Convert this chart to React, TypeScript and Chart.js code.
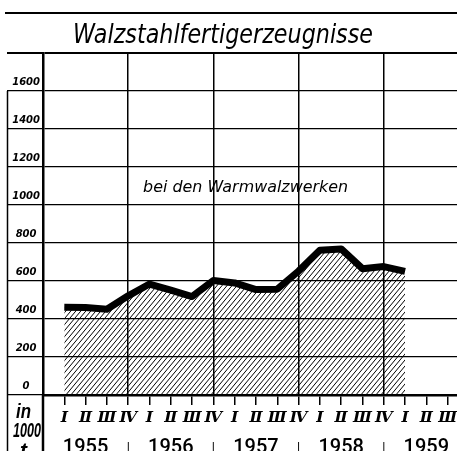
import React, { useEffect, useRef } from 'react';
import { Chart, registerables } from 'chart.js';
Chart.register(...registerables);

// Walzstahlfertigerzeugnisse bei den Warmwalzwerken, in 1000 t, quarterly 1955 I – 1959 I
const quarters = ['Ⅰ', 'Ⅱ', 'Ⅲ', 'Ⅳ'];
const years = ['1955', '1956', '1957', '1958', '1959'];
const values = [462, 460, 451, 522, 584, 552, 518, 603, 590, 555, 557, 652, 762, 769, 665, 676, 651];
const yTickValues = [0, 200, 400, 600, 800, 1000, 1200, 1400, 1600];
const titleText = 'Walzstahlfertigerzeugnisse';
const subtitleText = 'bei den Warmwalzwerken';
const unitLines = ['in', '1000', 't'];

const quarterTickCount = years.length * 4 - 1; // I 1955 … III 1959 visible

function drawFit(ctx: CanvasRenderingContext2D, text: string, x: number, y: number, w: number, font: string) {
  ctx.save();
  ctx.font = font;
  const m = ctx.measureText(text).width || 1;
  ctx.translate(x, y);
  ctx.scale(w / m, 1);
  ctx.textAlign = 'left';
  ctx.textBaseline = 'alphabetic';
  ctx.fillStyle = '#000';
  ctx.fillText(text, 0, 0);
  ctx.restore();
}

const decorPlugin = {
  id: 'decor',
  afterDraw(chart: any) {
    const ctx: CanvasRenderingContext2D = chart.ctx;
    const xs = chart.scales.x;
    const ys = chart.scales.y;
    const ca = chart.chartArea;
    ctx.save();
    ctx.strokeStyle = '#000';
    ctx.lineWidth = 2;
    ctx.beginPath();
    ctx.moveTo(5, 13);
    ctx.lineTo(chart.width, 13);
    ctx.stroke();
    ctx.lineWidth = 1.5;
    ctx.beginPath();
    ctx.moveTo(7.5, ys.getPixelForValue(yTickValues[yTickValues.length - 1]));
    ctx.lineTo(7.5, chart.height);
    ctx.stroke();
    ctx.lineWidth = 2.5;
    ctx.beginPath();
    ctx.moveTo(ca.left, ca.bottom);
    ctx.lineTo(ca.left, chart.height);
    ctx.stroke();
    ctx.restore();

    drawFit(ctx, titleText, 73, 43, 300, 'italic 500 27px "DejaVu Sans"');
    drawFit(ctx, subtitleText, xs.getPixelForValue(3.7), ys.getPixelForValue(1067), 205, 'italic 16.5px "DejaVu Sans"');
    const uf = 'italic bold 20px "Liberation Sans"';
    drawFit(ctx, unitLines[0], 16, 418, 15, uf);
    drawFit(ctx, unitLines[1], 13, 437, 28, uf);
    drawFit(ctx, unitLines[2], 20, 457, 7, uf);
  },
};

export default function App() {
  const ref = useRef<HTMLCanvasElement>(null);
  useEffect(() => {
    const canvas = ref.current!;
    const mctx = canvas.getContext('2d')!;
    const pc = document.createElement('canvas');
    pc.width = 5;
    pc.height = 6;
    const p = pc.getContext('2d')!;
    p.strokeStyle = '#000';
    p.lineWidth = 1;
    for (const dx of [-5, 0, 5]) {
      p.beginPath();
      p.moveTo(dx, 6);
      p.lineTo(dx + 5, 0);
      p.stroke();
    }
    const pattern = mctx.createPattern(pc, 'repeat')!;

    const xTicks = [-1];
    for (let i = 0; i < quarterTickCount; i++) xTicks.push(i);
    const yearTicks: number[] = [];
    for (let i = 1; i < quarterTickCount; i += 2) yearTicks.push(i);

    const chart = new Chart(canvas, {
      type: 'line',
      data: {
        datasets: [
          {
            data: values.map((v, i) => ({ x: i, y: v })),
            borderColor: '#000',
            borderWidth: 7,
            borderJoinStyle: 'round',
            backgroundColor: pattern,
            fill: 'origin',
            pointRadius: 0,
            tension: 0,
          },
        ],
      },
      options: {
        animation: false,
        responsive: false,
        events: [],
        layout: { padding: { top: 53, left: 7, right: 0, bottom: 0 } },
        plugins: {
          legend: { display: false },
          tooltip: { enabled: false },
          title: { display: false },
        },
        scales: {
          x: {
            type: 'linear',
            position: 'bottom',
            weight: 0,
            min: -1,
            max: 18.44,
            afterBuildTicks: (s: any) => {
              s.ticks = xTicks.map((v) => ({ value: v }));
            },
            afterFit: (s: any) => {
              s.height = 35;
              s.paddingLeft = 0;
              s.paddingRight = 0;
            },
            grid: {
              color: (c: any) => (c.tick && ((c.tick.value % 4) + 4) % 4 === 3 ? '#000' : 'rgba(0,0,0,0)'),
              lineWidth: 1.5,
              tickColor: (c: any) => (c.tick && c.tick.value >= 0 ? '#000' : 'rgba(0,0,0,0)'),
              tickLength: 10,
              tickWidth: 1.5,
            },
            border: { display: true, color: '#000', width: 2.5 },
            ticks: {
              autoSkip: false,
              maxRotation: 0,
              minRotation: 0,
              padding: 4,
              color: '#000',
              font: { family: 'DejaVu Serif', size: 15.5, style: 'italic', weight: 'bold' },
              callback: (v: any) => (v >= 0 ? quarters[v % 4] : ''),
            },
          },
          x2: {
            type: 'linear',
            position: 'bottom',
            weight: 1,
            min: -1,
            max: 18.44,
            afterBuildTicks: (s: any) => {
              s.ticks = yearTicks.map((v) => ({ value: v }));
            },
            afterFit: (s: any) => {
              s.height = 32;
              s.paddingLeft = 0;
              s.paddingRight = 0;
            },
            grid: { display: false },
            border: { display: false },
            ticks: {
              autoSkip: false,
              maxRotation: 0,
              minRotation: 0,
              padding: -2,
              color: '#000',
              font: (c: any) =>
                c.tick && (c.tick.value - 1) % 4 === 0
                  ? { family: 'Roboto', size: 20, weight: '500' }
                  : { family: 'Liberation Sans', size: 12, lineHeight: '24px' },
              callback: (v: any) => ((v - 1) % 4 === 0 ? years[(v - 1) / 4] : '|'),
            },
          },
          y: {
            type: 'linear',
            position: 'left',
            min: 0,
            max: 1800,
            afterFit: (s: any) => {
              s.width = 36;
              s.paddingTop = 0;
              s.paddingBottom = 0;
            },
            grid: {
              color: '#000',
              lineWidth: (c: any) => (c.tick && c.tick.value === 1800 ? 2 : 1.3),
              tickLength: 36,
              tickColor: '#000',
            },
            border: { display: true, color: '#000', width: 2.5 },
            ticks: {
              stepSize: 200,
              crossAlign: 'center',
              padding: -33,
              labelOffset: -9,
              color: '#000',
              font: { family: 'DejaVu Sans', size: 10, style: 'italic', weight: 'bold' },
              callback: (v: any) => (yTickValues.includes(v) ? String(v) : ''),
            },
          },
        },
      },
      plugins: [decorPlugin],
    } as any);
    return () => chart.destroy();
  }, []);

  return (
    <div style={{ position: 'absolute', left: 0, top: 0, width: 457, height: 451, overflow: 'hidden', background: '#fff' }}>
      <canvas ref={ref} width={457} height={462} style={{ display: 'block', width: 457, height: 462 }} />
    </div>
  );
}
